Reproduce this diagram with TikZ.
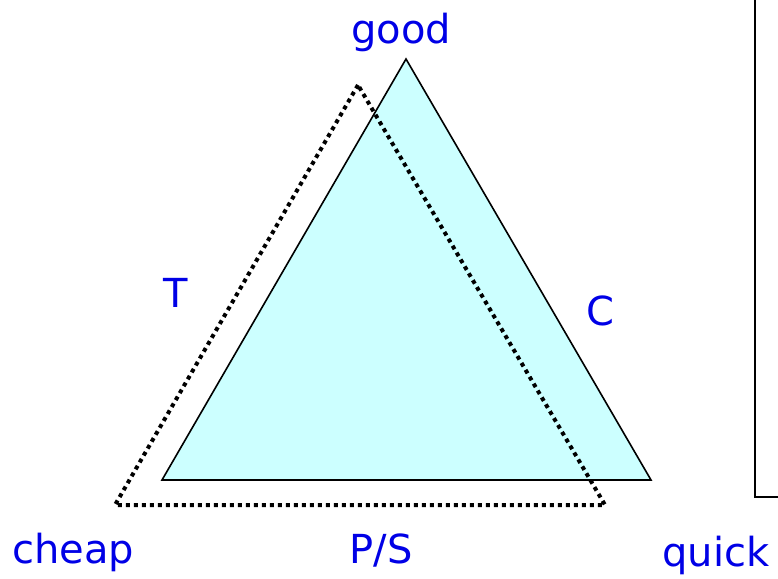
\documentclass[tikz,border=0pt]{standalone}
\usepackage{fontspec}
\setmainfont{DejaVu Sans}
\definecolor{lblblue}{RGB}{0,0,230}
\definecolor{areacyan}{RGB}{204,255,255}
\tikzset{
  lbl/.style={text=lblblue,inner sep=0pt,anchor=base,font=\fontsize{40}{48}\selectfont},
  dotline/.style={draw=black,line width=4pt,dash pattern=on 4pt off 4pt}
}
\begin{document}
\begin{tikzpicture}[x=1pt,y=-1pt]
\useasboundingbox (0,0) rectangle (778,578);
\coordinate (good) at (406,59);
\coordinate (cheap) at (162,480);
\coordinate (quick) at (651,480);
\coordinate (dtop) at (358,85);
\coordinate (dleft) at (115,505);
\coordinate (dright) at (605,505);
\draw[draw=black,fill=areacyan,line width=1.6pt,line join=miter] (good) -- (cheap) -- (quick) -- cycle;
\draw[dotline] (dtop) -- (dleft) -- (dright) -- cycle;
\draw[draw=black,line width=2pt] (755,-2) -- (755,497) -- (780,497);
\node[lbl] (lgood) at (401,44) {good};
\node[lbl] (lt) at (176,307) {T};
\node[lbl] (lc) at (600,325) {C};
\node[lbl] (lcheap) at (73,563) {cheap};
\node[lbl] (lps) at (381,563) {P/S};
\node[lbl] (lquick) at (716,566) {quick};
\end{tikzpicture}
\end{document}
